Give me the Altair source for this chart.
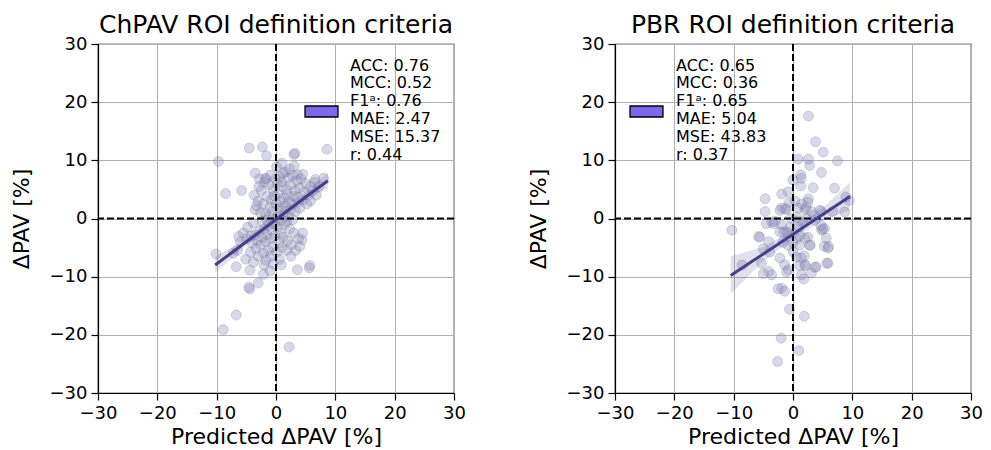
import altair as alt
import pandas as pd

FONT = "DejaVu Sans"

# ---------------- data ----------------
left_x = [
    -9.7, -8.5, -5.8, -4.5, -2.3, -1.6, 0.1, 3.0, 3.2, 8.6, -3.5, -3.7, -10.1, -6.7, -8.9, -6.7, 2.2,
    -4.4, -3.0, -2.1, -5.1, -4.4, 0.9, 3.3, 5.7, 5.6, 8.0, 6.6, -6.3, -4.6, 3.6, 4.4, 1.6, 3.6, -1.8,
    0.5, 1.2, 2.0, 2.8, 3.5, 4.2, 5.0, 5.8, 6.5, 0.2, 1.0, 1.8, 2.5, 3.2, 4.0, 4.8, 5.5, 6.2, -0.5, -1.2,
    -2.0, -2.5, -1.5, -0.8, 0.3, 1.3, 2.2, 3.0, 3.8, 4.5, 5.2, -3.0, -2.2, -1.0, 0.0, 0.8, 1.6, 2.4, 3.3,
    4.0, -3.5, -2.6, -1.8, -0.6, 0.4, 1.2, 2.0, 2.8, -1.2, 0.1, -0.3, 0.7, 1.9, 2.7, -0.1, 0.9, 3.6, 1.5,
    -2.9, -1.7, -0.9, 2.3, 1.0, 3.1, 4.5, -2.8, -3.3, 5.8, 6.8, 7.2,
    -0.5, -1.3, -2.0, -2.8, -3.5, -4.2, -5.0, 0.3, -0.8, -1.6, -2.4, -3.2, -4.0, 0.8, -0.2, -1.0, -1.8,
    -2.6, -3.4, 1.5, 2.3, 3.0, 1.2, 2.0, 0.5, -0.5, -1.3, -2.1, -3.0, -4.3, 0.1, -0.9, -1.7, 1.0, 1.8,
    2.6, 3.8, 4.5, 4.0, -4.8, -5.5, -6.0, -3.8, -2.3, -6.5, -7.2, -2.0, -0.5, 0.6, -3.8, 2.5, -1.0, 1.8,
    -0.2, 0.9, -1.5,
]
left_y = [
    9.8, 4.3, 4.8, 12.1, 12.3, 10.8, 8.9, 11.0, 11.2, 11.9, 7.8, 4.0, -6.1, -8.3, -19.1, -16.6, -22.1,
    -12.1, -11.1, -9.6, -7.0, -8.9, -8.0, -5.5, -8.1, -8.5, 6.9, 6.7, -3.1, -11.8, -8.8, -3.7, 8.0, 7.5, 6.9,
    7.2, 7.8, 6.9, 7.4, 6.5, 6.8, 6.0, 5.5, 6.2, 6.0, 5.5, 5.0, 5.8, 4.8, 5.2, 4.5, 4.0, 4.8, 5.0, 5.8,
    6.2, 4.8, 3.8, 3.2, 4.2, 3.5, 3.0, 3.8, 2.8, 3.2, 2.5, 3.0, 2.5, 2.0, 2.5, 1.8, 2.2, 1.5, 1.2,
    1.8, 1.5, 1.0, 0.8, 1.2, 0.8, 0.5, 0.3, -0.2, 0.2, 0.1, 3.9, 2.9, 4.1, 2.4, 6.8, 6.3, 3.6, 1.2,
    5.5, 6.8, 7.5, 8.5, 9.5, 9.0, 7.6, 6.8, 2.2, 3.0, 4.0, 5.5,
    -0.8, -1.2, -1.8, -2.2, -2.8, -3.0, -3.5, -1.5, -2.0, -2.8, -3.3, -3.8, -4.2, -2.5, -3.0, -3.5, -4.0,
    -4.6, -5.2, -1.0, -1.8, -2.5, -3.2, -3.8, -4.2, -4.8, -5.5, -6.0, -6.5, -5.8, -5.8, -6.5, -7.2, -5.0, -5.5,
    -4.5, -3.5, -2.5, -4.8, -1.5, -2.5, -4.0, -0.8, -0.5, -5.5, -6.0, -8.0, -7.8, -7.0, -7.5, -6.5, -9.0, -0.5,
    -1.0, -0.3, -0.3,
]

right_x = [
    2.6, 3.8, 5.1, 7.5, 0.9, 2.6, 2.8, 4.8, 1.3, 1.4, 0.0, 1.3, 3.4, 7.0, -4.7, -1.9, -0.8, 2.6, 8.9, 9.5,
    8.7, -10.3, -8.6, -4.7, -3.0, -1.9, -5.8, -4.1, -5.3, -4.1, -3.6, -5.0, -3.9, -5.0, -2.2, -1.4, -0.8,
    -1.1, -1.9, -1.4, -2.5, 0.6, 1.4, 2.0, 1.4, 3.1, 3.9, 5.9, 1.1, 2.8, 0.6, 2.0, -0.8, -1.6, 4.8, 5.3,
    5.6, 5.9, 5.3, 4.8, 6.7, 3.1, 2.0, 0.9, -1.1, -1.9, -0.3, 0.9, 2.3, -0.8, 0.0, -0.6, 1.9, -2.0, 1.0,
    -2.6, -3.6, -3.3, 1.1, 1.9, -1.7, -2.2, -0.6, 3.7, 4.5, 2.2, 1.7, 0.6, -2.2, -1.3, 2.5, 1.1, 0.0, -1.1,
    1.8, 5.7, 2.1, 3.7, 6.0, 2.9, 5.0, 4.7, -4.5, -5.6, 1.5, 2.5, 0.3, 3.5, -0.5, 1.0,
]
right_y = [
    17.6, 13.2, 11.4, 9.9, 10.2, 10.2, 9.1, 7.9, 7.5, 6.9, 6.6, 5.6, 5.3, 5.2, 3.4, 4.2, 4.6, 3.4, 3.7, 3.1,
    1.1, -2.0, -8.0, 1.2, -0.5, -1.1, -3.1, -4.0, -7.7, -9.1, -9.7, -5.2, -5.8, -9.5, -6.8, -8.0, -8.8,
    -9.2, -12.0, -12.5, -12.1, -6.6, -6.8, -8.0, -9.7, -9.4, -8.3, -7.7, -4.6, -4.6, -3.4, -3.4, -2.5, -2.3, -2.0, -1.7,
    -3.4, -5.1, -4.8, 1.2, 1.2, 1.2, 1.5, 1.8, 1.5, 1.8, 0.0, -0.5, 0.0, -4.6, -5.7, -15.6, -16.8, -20.6, -22.7,
    -24.6, -0.6, -0.9, -8.1, -6.4, -4.1, -2.3, 2.8, -0.3, 1.4, 1.9, -0.6, 0.2, 1.4, 1.7, -3.2, -2.9, -4.1, -2.3,
    -10.4, -7.7, -8.1, -8.4, -4.8, -4.6, -1.8, -1.2, -0.9, -3.2, 2.5, 2.8, 3.0, 0.5, -1.5, -1.5,
]

# regression fit line and its confidence band
left_fit_x = [-10.25, -5.0, 0.0, 5.0, 8.75]
left_fit_y = [-8.0, -4.0, -0.18, 3.7, 6.5]
left_lo = [-9.4, -4.6, -0.5, 3.2, 5.1]
left_hi = [-6.6, -3.4, 0.15, 4.2, 7.9]

right_fit_x = [-10.5, -5.0, 0.0, 5.0, 9.6]
right_fit_y = [-9.8, -6.1, -2.7, 0.7, 3.8]
right_lo = [-13.0, -7.3, -3.5, -0.4, 1.4]
right_hi = [-6.5, -4.9, -1.9, 1.8, 6.2]

ticks = [-30, -20, -10, 0, 10, 20, 30]
zero = [0]

left_title = "ChPAV ROI definition criteria"
right_title = "PBR ROI definition criteria"
left_metrics = ["ACC: 0.76", "MCC: 0.52", "F1ᵃ: 0.76", "MAE: 2.47", "MSE: 15.37", "r: 0.44"]
right_metrics = ["ACC: 0.65", "MCC: 0.36", "F1ᵃ: 0.65", "MAE: 5.04", "MSE: 43.83", "r: 0.37"]

W, H = 356, 349


def panel(title, px, py, fx, fy, lo, hi, metrics, text_x, patch_x):
    pts = pd.DataFrame({"x": px, "y": py})
    fit = pd.DataFrame({"x": fx, "y": fy, "lo": lo, "hi": hi})
    z = pd.DataFrame({"v": zero})
    xs = alt.Scale(domain=[-30, 30], nice=False, zero=False)
    ys = alt.Scale(domain=[-30, 30], nice=False, zero=False)
    xax = alt.Axis(values=ticks, title="Predicted ΔPAV [%]", labelFlush=False, labelOverlap=False)
    yax = alt.Axis(values=ticks, title="ΔPAV [%]", labelFlush=False, labelOverlap=False)

    points = alt.Chart(pts).mark_circle(
        size=100, fill="#9090c0", fillOpacity=0.35, stroke="#555566",
        strokeOpacity=0.25, strokeWidth=0.8,
    ).encode(x=alt.X("x:Q", scale=xs, axis=xax), y=alt.Y("y:Q", scale=ys, axis=yax))

    vrule = alt.Chart(z).mark_rule(color="black", strokeWidth=2, strokeDash=[7, 3]).encode(
        x=alt.X("v:Q", scale=xs))
    hrule = alt.Chart(z).mark_rule(color="black", strokeWidth=2, strokeDash=[7, 3]).encode(
        y=alt.Y("v:Q", scale=ys))

    band = alt.Chart(fit).mark_area(color="#483d8b", opacity=0.16).encode(
        x=alt.X("x:Q", scale=xs), y=alt.Y("lo:Q", scale=ys), y2="hi:Q")
    line = alt.Chart(fit).mark_line(color="#483d8b", strokeWidth=3).encode(
        x=alt.X("x:Q", scale=xs), y=alt.Y("y:Q", scale=ys))

    patch = alt.Chart(z).mark_rect(fill="#7b68ee", stroke="black", strokeWidth=1.3).encode(
        x=alt.value(patch_x), x2=alt.value(patch_x + 33), y=alt.value(62), y2=alt.value(73))
    txt = alt.Chart(z).mark_text(
        align="left", baseline="middle", font=FONT, fontSize=16, lineHeight=17.8,
        lineBreak="\n", color="black",
    ).encode(x=alt.value(text_x), y=alt.value(21.7), text=alt.value("\n".join(metrics)))

    ttl = alt.Chart(z).mark_text(
        align="center", baseline="alphabetic", font=FONT, fontSize=25, color="black",
    ).encode(x=alt.value(W / 2), y=alt.value(-10.7), text=alt.value(title))

    return alt.layer(points, vrule, hrule, band, line, patch, txt, ttl).properties(
        width=W, height=H)


left = panel(left_title, left_x, left_y, left_fit_x, left_fit_y, left_lo, left_hi,
             left_metrics, 252, 207)
right = panel(right_title, right_x, right_y, right_fit_x, right_fit_y, right_lo, right_hi,
              right_metrics, 61, 15)

chart = alt.hconcat(left, right, spacing=59).properties(
    padding={"left": 9, "top": 12, "right": 5, "bottom": 0}
).configure_view(stroke="black", strokeWidth=1.2).configure_axis(
    labelFont=FONT, titleFont=FONT, labelFontSize=18, titleFontSize=22,
    labelColor="black", titleColor="black", titleFontWeight="normal",
    tickColor="black", tickSize=7, tickWidth=1.2, domainColor="black", domainWidth=1.2,
    gridColor="#b0b0b0", gridWidth=1, labelPadding=4,
).configure_axisY(titlePadding=16).configure_axisX(titlePadding=4)

chart.save("out.html", embed_options={"renderer": "svg", "actions": False})
